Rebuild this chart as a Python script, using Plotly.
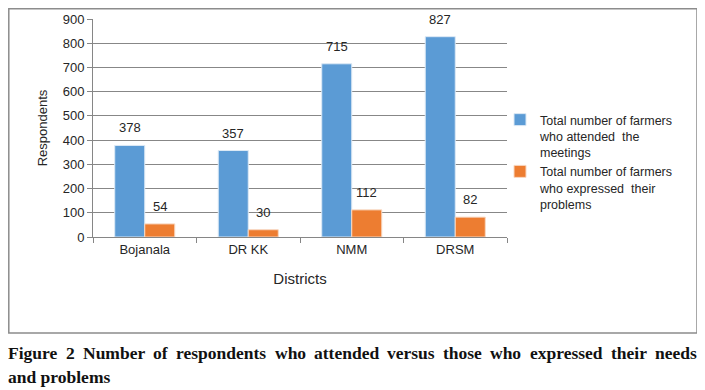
import plotly.graph_objects as go

districts = ["Bojanala", "DR KK", "NMM", "DRSM"]
attended = [378, 357, 715, 827]
expressed = [54, 30, 112, 82]
series_names = ["Total number of farmers<br>who attended  the<br>meetings",
                "Total number of farmers<br>who expressed  their<br>problems"]
y_ticks = [0, 100, 200, 300, 400, 500, 600, 700, 800, 900]
caption_line1 = "Figure 2 Number of respondents who attended versus those who expressed their needs"
caption_line2 = "and problems"

FONT = "Liberation Sans, Arial, sans-serif"
OFF = 8  # default page margin of the browser
W, H = 705 - OFF, 390 - OFF
L, T = 93 - OFF, 19 - OFF
R = W - (507 - OFF)
B = H - (237 - OFF)
pw, ph = W - L - R, H - T - B

def px_x(x):  # screen px -> paper
    return (x - OFF - L) / pw

def px_y(y):
    return (H - B - (y - OFF)) / ph

fig = go.Figure()
fig.add_trace(go.Bar(x=districts, y=attended, name=series_names[0],
                     marker=dict(color="#5B9BD5", line=dict(color="#DCE9F5", width=1))))
fig.add_trace(go.Bar(x=districts, y=expressed, name=series_names[1],
                     marker=dict(color="#ED7D31", line=dict(color="#F8D8C2", width=1))))

# data labels above the bars
for vals, xs in ((attended, -15), (expressed, 15)):
    for d, v in zip(districts, vals):
        fig.add_annotation(x=d, y=v, text=str(v), showarrow=False,
                           xshift=xs, yshift=8, yanchor="bottom",
                           font=dict(family=FONT, size=13, color="#262626"))

fig.update_layout(
    width=W, height=H,
    margin=dict(l=L, r=R, t=T, b=B, autoexpand=False),
    paper_bgcolor="white", plot_bgcolor="white",
    barmode="group", bargap=0.42, bargroupgap=0,
    font=dict(family=FONT, size=13, color="#404040"),
    showlegend=True,
    legend=dict(x=px_x(500), y=px_y(105), xanchor="left", yanchor="top", valign="top",
                font=dict(family=FONT, size=12.5, color="#262626"),
                itemwidth=30, bgcolor="rgba(0,0,0,0)"),
    xaxis=dict(showline=True, linecolor="#868686", linewidth=1,
               ticks="outside", tickson="boundaries", ticklen=5, tickcolor="#868686",
               tickfont=dict(family=FONT, size=13, color="#262626"),
               title=dict(text="Districts", font=dict(family=FONT, size=15, color="#262626"), standoff=17)),
    yaxis=dict(range=[0, 900], tickvals=y_ticks, showline=True, linecolor="#868686", linewidth=1,
               ticks="outside", ticklen=5, tickcolor="#868686",
               showgrid=True, gridcolor="#878787", gridwidth=1, zeroline=False,
               tickfont=dict(family=FONT, size=13, color="#262626"),
               title=dict(text="Respondents", font=dict(family=FONT, size=13, color="#262626"), standoff=12)),
)

fig.add_shape(type="rect", xref="paper", yref="paper",
              x0=px_x(8.8), x1=px_x(697), y0=px_y(333), y1=px_y(8.8),
              line=dict(color="#8c8c8c", width=1.5), layer="below")

# caption: first line justified between the frame edges (Times-Bold glyph widths, per 1000 em)
GLYPH = {"F": 611, "N": 722, "2": 500, "a": 500, "b": 556, "c": 444, "d": 556, "e": 444,
         "f": 333, "g": 500, "h": 556, "i": 278, "l": 278, "m": 833, "n": 556, "o": 500,
         "p": 556, "r": 444, "s": 389, "t": 333, "u": 556, "v": 500, "w": 722, "x": 500, "y": 500}
CAP_SIZE = 17.5
CAP_FONT = dict(family="Liberation Serif, Times New Roman, serif", size=CAP_SIZE, color="#111111")
left_px, right_px = 8, 697
words = caption_line1.split(" ")
wpx = [sum(GLYPH.get(c, 500) for c in w) / 1000 * CAP_SIZE for w in words]
gap = (right_px - left_px - sum(wpx)) / (len(words) - 1)
xpos = left_px
for i, (w, ww) in enumerate(zip(words, wpx)):
    if i == len(words) - 1:
        fig.add_annotation(text="<b>" + w + "</b>", xref="paper", yref="paper",
                           x=px_x(right_px), y=px_y(353.5), xanchor="right", yanchor="middle",
                           showarrow=False, xshift=2, font=CAP_FONT)
    else:
        fig.add_annotation(text="<b>" + w + "</b>", xref="paper", yref="paper",
                           x=px_x(xpos), y=px_y(353.5), xanchor="left", yanchor="middle",
                           showarrow=False, xshift=-2, font=CAP_FONT)
    xpos += ww + gap
fig.add_annotation(text="<b>" + caption_line2 + "</b>", xref="paper", yref="paper",
                   x=px_x(left_px), y=px_y(376.5), xanchor="left", yanchor="middle",
                   showarrow=False, xshift=-2, font=CAP_FONT)

fig.write_html("out.html")
